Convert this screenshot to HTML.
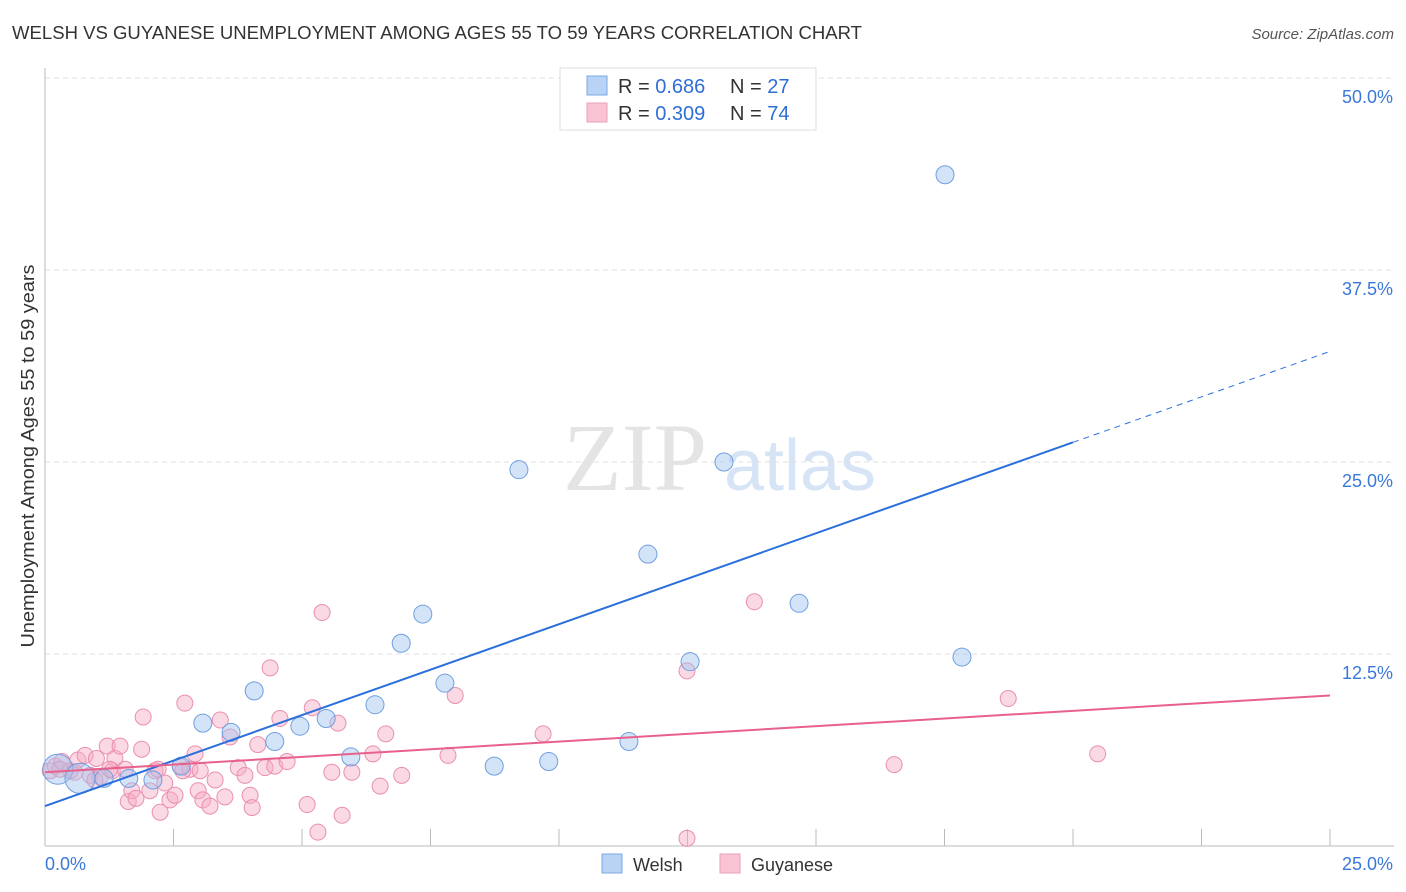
<!DOCTYPE html>
<html><head><meta charset="utf-8"><style>
body{margin:0;background:#fff;font-family:"Liberation Sans",sans-serif;}
svg{display:block}
</style></head><body>
<svg id="chart" width="1406" height="892">
<text x="12" y="39" font-size="18" fill="#333" textLength="850" lengthAdjust="spacingAndGlyphs">WELSH VS GUYANESE UNEMPLOYMENT AMONG AGES 55 TO 59 YEARS CORRELATION CHART</text>
<text x="1394" y="39" font-size="15" fill="#555" font-style="italic" text-anchor="end">Source: ZipAtlas.com</text>
<text x="635" y="490" font-size="96" fill="#e4e4e4" font-family="Liberation Serif,serif" text-anchor="middle">ZIP</text>
<text x="800" y="490" font-size="72" fill="#d6e4f6" text-anchor="middle">atlas</text>
<g id="grid"></g><g id="marks"></g>
<text transform="translate(34,456) rotate(-90)" font-size="18" fill="#333" text-anchor="middle" textLength="383" lengthAdjust="spacingAndGlyphs">Unemployment Among Ages 55 to 59 years</text>
<rect x="560" y="68" width="256" height="62" fill="#fff" stroke="#ddd"/>
<rect x="587" y="76" width="20" height="19" fill="#b8d3f5" stroke="#7aa7e3"/>
<rect x="587" y="103" width="20" height="19" fill="#f8c3d2" stroke="#eaa0b8"/>
<text x="618" y="93" font-size="20" fill="#333">R = <tspan fill="#2d6fd6">0.686</tspan></text>
<text x="730" y="93" font-size="20" fill="#333">N = <tspan fill="#2d6fd6">27</tspan></text>
<text x="618" y="120" font-size="20" fill="#333">R = <tspan fill="#2d6fd6">0.309</tspan></text>
<text x="730" y="120" font-size="20" fill="#333">N = <tspan fill="#2d6fd6">74</tspan></text>
<rect x="602" y="854" width="20" height="19" fill="#b8d3f5" stroke="#7aa7e3"/>
<text x="633" y="871" font-size="18" fill="#333">Welsh</text>
<rect x="720" y="854" width="20" height="19" fill="#f8c3d2" stroke="#eaa0b8"/>
<text x="751" y="871" font-size="18" fill="#333">Guyanese</text>
<text x="45" y="870" font-size="18" fill="#3a78d8">0.0%</text>
<text x="1393" y="870" font-size="18" fill="#3a78d8" text-anchor="end">25.0%</text>
</svg>
<script>
const yTicks=[12.5,25,37.5,50];
const yTickLabels=["12.5%","25.0%","37.5%","50.0%"];
const welshX=[0.25,0.68,1.15,1.63,2.1,2.65,3.07,3.62,4.07,4.47,4.96,5.47,5.95,6.42,6.93,7.35,7.78,8.74,9.22,9.8,11.36,11.73,12.55,13.21,14.67,17.51,17.84];
const welshY=[5.0,4.4,4.4,4.4,4.3,5.2,8.0,7.4,10.1,6.8,7.8,8.3,5.8,9.2,13.2,15.1,10.6,5.2,24.5,5.5,6.8,19.0,12.0,25.0,15.8,43.7,12.3];
const welshR=[15,15,9,9,9,9,9,9,9,9,9,9,9,9,9,9,9,9,9,9,9,9,9,9,9,9,9];
const guyX=[0.1,0.2,0.33,0.49,0.64,0.78,0.88,1.0,1.07,1.21,1.31,1.36,1.46,1.56,1.62,1.69,1.77,1.88,1.91,2.04,2.14,2.24,2.33,2.43,2.53,2.63,2.72,2.82,2.92,2.98,3.07,3.21,3.31,3.41,3.5,3.6,3.76,3.89,3.99,4.03,4.14,4.28,4.38,4.47,4.57,4.71,5.1,5.2,5.31,5.39,5.58,5.7,5.78,5.97,6.38,6.52,6.63,6.94,7.84,7.98,9.69,12.49,13.8,16.52,18.74,20.48,12.49,0.29,0.58,0.97,1.26,2.2,2.68,3.02];
const guyY=[4.9,5.2,5.5,4.9,5.6,5.9,4.6,5.7,4.5,6.5,4.9,5.7,6.5,5.0,2.9,3.6,3.1,6.3,8.4,3.6,4.9,2.2,4.1,3.0,3.3,5.2,9.3,5.0,6.0,3.6,3.0,2.6,4.3,8.2,3.2,7.1,5.1,4.6,3.3,2.5,6.6,5.1,11.6,5.2,8.3,5.5,2.7,9.0,0.9,15.2,4.8,8.0,2.0,4.8,6.0,3.9,7.3,4.6,5.9,9.8,7.3,11.4,15.9,5.3,9.6,6.0,0.5,5.0,4.8,4.3,5.0,5.0,4.9,4.9];
const blueLine=[2.6,32.2];
const pinkLine=[4.8,9.8];
const X0=45,X1=1330,Y0=846,Y50=78;
const sx=v=>X0+(X1-X0)*v/25, sy=v=>Y0-(Y0-Y50)*v/50;
const NS="http://www.w3.org/2000/svg";
function mk(t,a,p){const e=document.createElementNS(NS,t);for(const k in a)e.setAttribute(k,a[k]);p.appendChild(e);return e;}
const grid=document.getElementById('grid'),marks=document.getElementById('marks');
yTicks.forEach((t,i)=>{
 const l=mk('line',{x1:X0,x2:1394,y1:sy(t),y2:sy(t),stroke:'#e0e0e0','stroke-dasharray':'5,4'},grid);
 
 
 const tx=mk('text',{x:1393,y:sy(t)+25,'font-size':18,fill:'#3a78d8','text-anchor':'end'},grid);
 tx.textContent=yTickLabels[i];
 
 
});
const ax=mk('line',{x1:X0,x2:X0,y1:68,y2:Y0,stroke:'#bbb'},grid);


const bx=mk('line',{x1:X0,x2:1394,y1:Y0,y2:Y0,stroke:'#bbb'},grid);


for(let i=0;i<=10;i++){const tk=mk('line',{x1:sx(i*2.5),x2:sx(i*2.5),y1:Y0,y2:Y0-17,stroke:'#bbb'},grid);
 
 }
guyX.forEach((x,i)=>{const c=mk('circle',{cx:sx(x),cy:sy(guyY[i]),r:8,fill:'rgba(246,170,195,0.45)',stroke:'#e98fae','stroke-width':1},marks);
 
 });
welshX.forEach((x,i)=>{const c=mk('circle',{cx:sx(x),cy:sy(welshY[i]),r:welshR[i],fill:'rgba(160,195,240,0.45)',stroke:'#6f9fe0','stroke-width':1},marks);
 
 });
const bAt=x=>blueLine[0]+(blueLine[1]-blueLine[0])*x/25;
const b1=mk('line',{x1:sx(0),y1:sy(bAt(0)),x2:sx(20),y2:sy(bAt(20)),stroke:'#2a6fdb','stroke-width':2},marks);


const b2=mk('line',{x1:sx(20),y1:sy(bAt(20)),x2:sx(25),y2:sy(bAt(25)),stroke:'#2a6fdb','stroke-width':1,'stroke-dasharray':'6,5'},marks);


const p1=mk('line',{x1:sx(0),y1:sy(pinkLine[0]),x2:sx(25),y2:sy(pinkLine[1]),stroke:'#e8608c','stroke-width':2},marks);


</script>
</body></html>
